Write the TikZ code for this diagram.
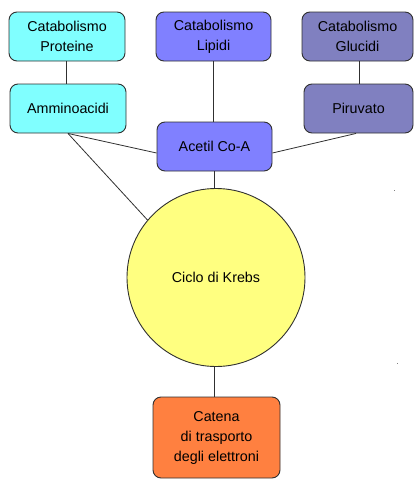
\documentclass[tikz,border=0pt]{standalone}
\usepackage{fontspec}
\setmainfont{Liberation Sans}
\usetikzlibrary{calc}
\definecolor{cprot}{HTML}{80FFFF}
\definecolor{clip}{HTML}{8080FF}
\definecolor{cgluc}{HTML}{8080C0}
\definecolor{ckrebs}{HTML}{FFFF80}
\definecolor{ccat}{HTML}{FF8040}
\definecolor{edge}{HTML}{303030}
\tikzset{
  box/.style={draw=edge, line width=0.9pt, rounded corners=8pt, align=center,
    inner sep=0pt, font=\fontsize{14.3}{20}\selectfont},
  link/.style={draw=edge, line width=0.8pt},
}
\begin{document}
\begin{tikzpicture}[x=1pt,y=-1pt]
\useasboundingbox (0,0) rectangle (414,479);
\node[box, fill=cprot, minimum width=116pt, minimum height=49pt] (p1) at (67,36.5) {Catabolismo\\Proteine};
\node[box, fill=clip, minimum width=115pt, minimum height=49pt] (l1) at (213.5,36.5) {Catabolismo\\Lipidi};
\node[box, fill=cgluc, minimum width=111pt, minimum height=49pt] (g1) at (357.5,36.5) {Catabolismo\\Glucidi};
\node[box, fill=cprot, minimum width=116pt, minimum height=49pt] (am) at (68,108.5) {Amminoacidi};
\node[box, fill=cgluc, minimum width=109pt, minimum height=49pt] (pir) at (358.5,108.5) {Piruvato};
\node[box, fill=clip, minimum width=115pt, minimum height=49pt] (ac) at (214.5,146.5) {Acetil Co-A};
\node[circle, draw=edge, line width=0.9pt, fill=ckrebs, minimum size=178pt, inner sep=0pt,
  font=\fontsize{14.3}{20}\selectfont] (kr) at (216,277.5) {Ciclo di Krebs};
\node[box, fill=ccat, minimum width=127pt, minimum height=81pt] (cat) at (216.5,437.5) {Catena\\di trasporto\\degli elettroni};
\draw[link] (p1.south -| am.south) ++(-2,0) coordinate (t1) -- (t1 |- am.north);
\draw[link] (l1.south) -- (l1.south |- ac.north);
\draw[link] (g1.south) ++(1.5,0) coordinate (t2) -- (t2 |- pir.north);
\draw[link] (am.south) -- ($(ac.west)+(0,6.5)$);
\draw[link] ($(pir.south)+(-2.5,0)$) -- ($(ac.east)+(0,6.5)$);
\draw[link] (am.south) -- (kr.140);
\draw[link] (ac.south) ++(-0.5,0) coordinate (t3) -- (t3 |- kr.north);
\draw[link] (kr.south) ++(-2,0) coordinate (t4) -- (t4 |- cat.north);
\fill[gray] (393.5,189.5) rectangle (395,191);
\fill[gray] (396.5,362.5) rectangle (398,364);
\end{tikzpicture}
\end{document}
